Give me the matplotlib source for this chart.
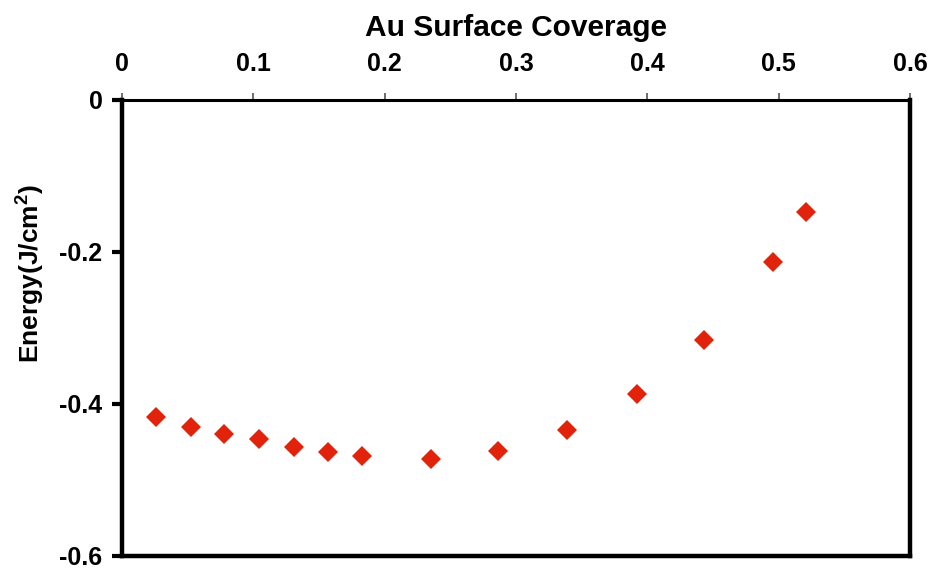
import matplotlib
matplotlib.use("Agg")
import matplotlib.pyplot as plt

# Au surface coverage vs. energy
coverage = [0.026, 0.0525, 0.078, 0.104, 0.131, 0.157, 0.1825, 0.235, 0.286,
            0.339, 0.392, 0.443, 0.4955, 0.521]
energy = [-0.4175, -0.430, -0.4395, -0.4465, -0.457, -0.4635, -0.469, -0.472,
          -0.4615, -0.434, -0.387, -0.316, -0.213, -0.147]

x_ticks = [0, 0.1, 0.2, 0.3, 0.4, 0.5, 0.6]
x_tick_labels = ["0", "0.1", "0.2", "0.3", "0.4", "0.5", "0.6"]
y_ticks = [0, -0.2, -0.4, -0.6]
y_tick_labels = ["0", "-0.2", "-0.4", "-0.6"]

plt.rcParams["font.family"] = ["Liberation Sans", "DejaVu Sans"]
plt.rcParams["font.weight"] = "bold"
plt.rcParams["mathtext.fontset"] = "custom"
plt.rcParams["mathtext.bf"] = "Liberation Sans:bold"
plt.rcParams["mathtext.rm"] = "Liberation Sans:bold"

fig = plt.figure(figsize=(9.33, 5.71), dpi=100)
ax = fig.add_axes([0.1308, 0.0263, 0.9753 - 0.1308, 0.8249 - 0.0263])

ax.plot(coverage, energy, linestyle="none", marker="D", markersize=10,
        color="#e2230c", markeredgewidth=0)

ax.set_xlim(0, 0.6)
ax.set_ylim(-0.6, 0)

ax.xaxis.tick_top()
ax.xaxis.set_label_position("top")
ax.set_xticks(x_ticks)
ax.set_xticklabels(x_tick_labels, fontsize=18, fontweight="bold")
ax.set_yticks(y_ticks)
ax.set_yticklabels(y_tick_labels, fontsize=18, fontweight="bold")

ax.tick_params(axis="x", direction="out", length=5, width=1.2, pad=12,
               color="#555555")
ax.tick_params(axis="y", direction="out", length=7, width=3, pad=7)

ax.set_xlabel("Au Surface Coverage", fontsize=21.5, fontweight="bold",
              labelpad=12)
ax.set_ylabel("Energy(J/cm$^\\mathrm{2}$)", fontsize=19, fontweight="bold")
ax.yaxis.set_label_coords(-0.096, 0.62)

for side in ["left", "right", "bottom"]:
    ax.spines[side].set_linewidth(3.2)
ax.spines["top"].set_linewidth(2.2)

fig.savefig("out.png", dpi=100)
